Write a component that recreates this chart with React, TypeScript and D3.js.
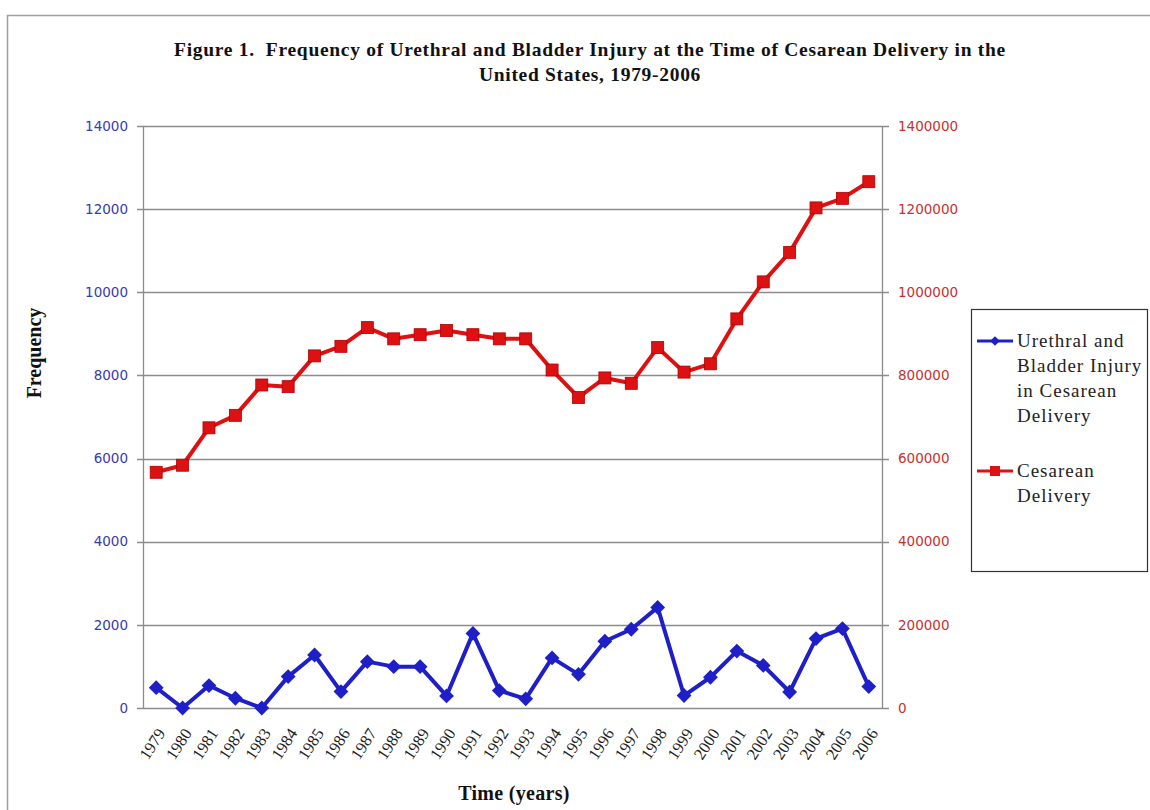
import React, { useRef, useEffect } from "react";
import * as d3 from "d3";

const years = [
  "1979", "1980", "1981", "1982", "1983", "1984", "1985", "1986", "1987", "1988",
  "1989", "1990", "1991", "1992", "1993", "1994", "1995", "1996", "1997", "1998",
  "1999", "2000", "2001", "2002", "2003", "2004", "2005", "2006",
];
const injury = [
  490, 0, 540, 235, 0, 755, 1275, 395, 1115, 995,
  995, 290, 1795, 420, 220, 1205, 810, 1605, 1895, 2420,
  300, 740, 1370, 1025, 385, 1670, 1910, 515,
];
const cesarean = [
  567000, 584000, 674000, 704000, 777000, 773000, 847000, 870000, 915000, 888000,
  898000, 908000, 898000, 888000, 888000, 813000, 747000, 794000, 781000, 867000,
  808000, 828000, 936000, 1025000, 1096000, 1203000, 1226000, 1266000,
];
const leftTicks = [0, 2000, 4000, 6000, 8000, 10000, 12000, 14000];
const rightTicks = [0, 200000, 400000, 600000, 800000, 1000000, 1200000, 1400000];
const legendInjury = ["Urethral and", "Bladder Injury", "in Cesarean", "Delivery"];
const legendCesarean = ["Cesarean", "Delivery"];

const BLUE = "#1f1fc8";
const RED = "#dd1111";
const SERIF = "'Liberation Serif', 'Times New Roman', serif";
const SANS = "'DejaVu Sans', Tahoma, sans-serif";

function App() {
  const svgRef = useRef<SVGSVGElement>(null);

  useEffect(() => {
    const svg = d3.select(svgRef.current);
    svg.selectAll("*").remove();
    const width = 1150;
    const height = 810;
    const margin = { top: 126, right: 268, bottom: 102, left: 143 };
    const innerWidth = width - margin.left - margin.right;
    const innerHeight = height - margin.top - margin.bottom;

    svg.append("rect")
      .attr("x", 7.5).attr("y", 15.5)
      .attr("width", 1160).attr("height", 820)
      .attr("fill", "white").attr("stroke", "#a0a0a0").attr("stroke-width", 1.5);

    const x = d3.scaleBand().domain(years).range([0, innerWidth]);
    const yL = d3.scaleLinear().domain([0, 14000]).range([innerHeight, 0]);
    const yR = d3.scaleLinear().domain([0, 1400000]).range([innerHeight, 0]);
    const cx = (d: string) => (x(d) as number) + x.bandwidth() / 2;

    const g = svg.append("g")
      .attr("transform", `translate(${margin.left},${margin.top})`);

    // gridlines
    g.append("g").selectAll("line")
      .data(leftTicks)
      .enter().append("line")
      .attr("x1", -6).attr("x2", innerWidth + 7)
      .attr("y1", (d) => Math.round(yL(d)) + 0.5)
      .attr("y2", (d) => Math.round(yL(d)) + 0.5)
      .attr("stroke", "#8c8c8c").attr("stroke-width", 1.3);

    // axes lines
    g.append("line").attr("x1", 0.5).attr("x2", 0.5).attr("y1", 0).attr("y2", innerHeight)
      .attr("stroke", "#8c8c8c").attr("stroke-width", 1.3);
    g.append("line").attr("x1", innerWidth + 0.5).attr("x2", innerWidth + 0.5)
      .attr("y1", 0).attr("y2", innerHeight)
      .attr("stroke", "#8c8c8c").attr("stroke-width", 1.3);

    // left tick labels
    g.append("g").selectAll("text")
      .data(leftTicks)
      .enter().append("text")
      .attr("x", -15).attr("y", (d) => yL(d))
      .attr("dy", "0.35em")
      .attr("text-anchor", "end")
      .attr("font-family", SANS).attr("font-size", 13.5)
      .attr("fill", "#3a3ab0")
      .text((d) => String(d));

    // right tick labels
    g.append("g").selectAll("text")
      .data(rightTicks)
      .enter().append("text")
      .attr("x", innerWidth + 16).attr("y", (d) => yR(d))
      .attr("dy", "0.35em")
      .attr("text-anchor", "start")
      .attr("font-family", SANS).attr("font-size", 13.5)
      .attr("fill", "#c83030")
      .text((d) => String(d));

    // x labels
    g.append("g").selectAll("text")
      .data(years)
      .enter().append("text")
      .attr("transform", (d) => `translate(${cx(d) + 5},${innerHeight + 22}) rotate(-57)`)
      .attr("text-anchor", "end")
      .attr("dy", "0.35em")
      .attr("font-family", SERIF).attr("font-size", 16.5)
      .attr("fill", "#222")
      .text((d) => d);

    // cesarean line
    const lineR = d3.line<number>()
      .x((_, i) => cx(years[i]))
      .y((d) => yR(d));
    g.append("path")
      .datum(cesarean)
      .attr("d", lineR)
      .attr("fill", "none").attr("stroke", RED).attr("stroke-width", 4)
      .attr("stroke-linejoin", "round");
    g.append("g").selectAll("rect")
      .data(cesarean)
      .enter().append("rect")
      .attr("x", (_, i) => cx(years[i]) - 6)
      .attr("y", (d) => yR(d) - 6)
      .attr("width", 12).attr("height", 12)
      .attr("fill", RED).attr("stroke", "#b00000").attr("stroke-width", 0.8);

    // injury line
    const lineL = d3.line<number>()
      .x((_, i) => cx(years[i]))
      .y((d) => yL(d));
    g.append("path")
      .datum(injury)
      .attr("d", lineL)
      .attr("fill", "none").attr("stroke", BLUE).attr("stroke-width", 4)
      .attr("stroke-linejoin", "round");
    const diamond = d3.symbol().type(d3.symbolDiamond2).size(140);
    g.append("g").selectAll("path")
      .data(injury)
      .enter().append("path")
      .attr("d", diamond)
      .attr("transform", (d, i) => `translate(${cx(years[i])},${yL(d)})`)
      .attr("fill", BLUE);

    // title
    const title = svg.append("text")
      .attr("x", 590).attr("text-anchor", "middle")
      .attr("font-family", SERIF).attr("font-weight", "bold").attr("font-size", 19.5)
      .attr("letter-spacing", 0.7)
      .style("white-space", "pre")
      .attr("fill", "#111");
    title.append("tspan").attr("x", 590).attr("y", 56)
      .text("Figure 1.  Frequency of Urethral and Bladder Injury at the Time of Cesarean Delivery in the");
    title.append("tspan").attr("x", 590).attr("y", 81)
      .text("United States, 1979-2006");

    // axis titles
    svg.append("text")
      .attr("transform", `translate(41,353) rotate(-90)`)
      .attr("text-anchor", "middle")
      .attr("font-family", SERIF).attr("font-weight", "bold").attr("font-size", 20)
      .attr("fill", "#111")
      .text("Frequency");
    svg.append("text")
      .attr("x", 514).attr("y", 800)
      .attr("text-anchor", "middle")
      .attr("font-family", SERIF).attr("font-weight", "bold").attr("font-size", 20)
      .attr("letter-spacing", 0.3)
      .attr("fill", "#111")
      .text("Time (years)");

    // legend
    const lg = svg.append("g").attr("transform", "translate(971,309)");
    lg.append("rect")
      .attr("x", 0.5).attr("y", 0.5).attr("width", 176).attr("height", 262)
      .attr("fill", "white").attr("stroke", "#333").attr("stroke-width", 1.2);
    lg.append("line").attr("x1", 6).attr("x2", 42).attr("y1", 32).attr("y2", 32)
      .attr("stroke", BLUE).attr("stroke-width", 3);
    lg.append("path").attr("d", d3.symbol().type(d3.symbolDiamond2).size(60))
      .attr("transform", "translate(24,32)").attr("fill", BLUE);
    lg.append("line").attr("x1", 6).attr("x2", 42).attr("y1", 162).attr("y2", 162)
      .attr("stroke", RED).attr("stroke-width", 3);
    lg.append("rect").attr("x", 19).attr("y", 157).attr("width", 10).attr("height", 10)
      .attr("fill", RED);
    lg.append("g").selectAll("text")
      .data(legendInjury)
      .enter().append("text")
      .attr("x", 46).attr("y", (_, i) => 38 + i * 25)
      .attr("font-family", SERIF).attr("font-size", 19).attr("letter-spacing", 1)
      .attr("fill", "#222")
      .text((d) => d);
    lg.append("g").selectAll("text")
      .data(legendCesarean)
      .enter().append("text")
      .attr("x", 46).attr("y", (_, i) => 168 + i * 25)
      .attr("font-family", SERIF).attr("font-size", 19).attr("letter-spacing", 1)
      .attr("fill", "#222")
      .text((d) => d);
  }, []);

  return (
    <svg
      ref={svgRef}
      width={1150}
      height={810}
      style={{ position: "absolute", left: 0, top: 0 }}
    ></svg>
  );
}

export default App;
